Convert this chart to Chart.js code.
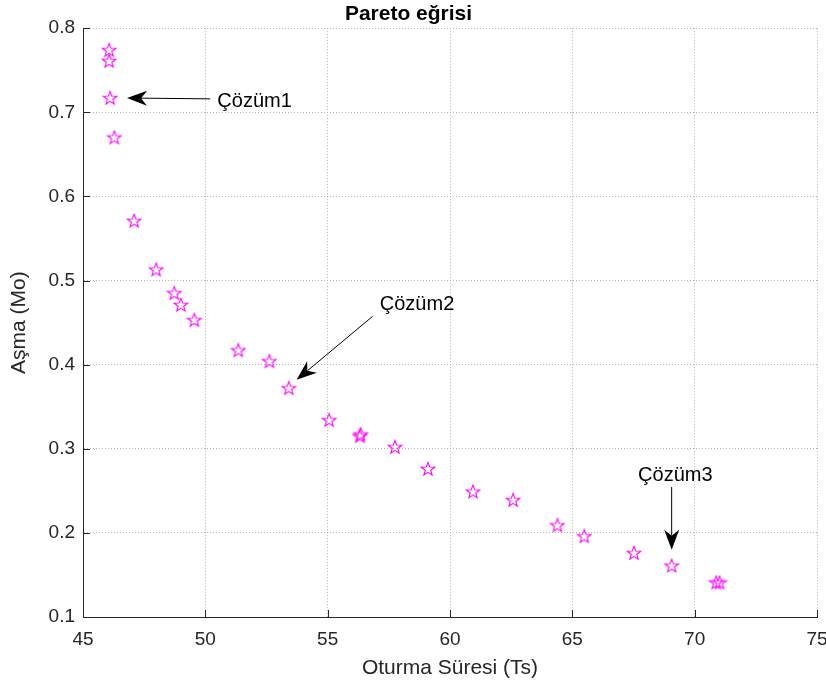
<!DOCTYPE html>
<html>
<head>
<meta charset="utf-8">
<script src="https://cdn.jsdelivr.net/npm/chart.js@4.4.1/dist/chart.umd.min.js"></script>
<style>
  body { margin: 0; background: #fff; }
  canvas { display: block; }
</style>
</head>
<body>
<canvas id="chart" width="826" height="686"></canvas>
<script>
// Pareto noktalari (Oturma Suresi, Asma)
const sureVals = [46.07, 46.07, 46.11, 46.28, 47.09, 47.99, 48.73, 49.00, 49.55, 51.35, 52.62, 53.41,
                  55.06, 56.31, 56.35, 57.75, 59.10, 60.94, 62.58, 64.39, 65.49, 67.52, 69.06, 70.88, 71.02];
const asmaVals = [0.774, 0.761, 0.717, 0.670, 0.571, 0.513, 0.485, 0.471, 0.453, 0.417, 0.404, 0.372,
                  0.334, 0.315, 0.317, 0.302, 0.276, 0.249, 0.239, 0.209, 0.196, 0.176, 0.161, 0.141, 0.141];

const xTickVals = [45, 50, 55, 60, 65, 70, 75];
const yTickVals = [0.1, 0.2, 0.3, 0.4, 0.5, 0.6, 0.7, 0.8];

// oklar ve yazilar
const annLabels = ['Çözüm1', 'Çözüm2', 'Çözüm3'];
const annTailX = [50.20, 56.84, 69.06];
const annTailY = [0.716, 0.4575, 0.2546];
const annHeadX = [46.80, 53.73, 69.06];
const annHeadY = [0.717, 0.382, 0.180];
const annTextX = [50.49, 57.13, 69.21];
const annTextY = [0.713, 0.472, 0.2685];
const annAlign = ['left', 'left', 'center'];

const FONT = '"Liberation Sans", Arial, Helvetica, sans-serif';

// beş köşeli yıldız marker
function makeStar() {
  const c = document.createElement('canvas');
  c.width = 16; c.height = 16;
  const g = c.getContext('2d');
  g.strokeStyle = '#ff00ff';
  g.lineWidth = 1.1;
  g.beginPath();
  for (let i = 0; i < 10; i++) {
    const r = i % 2 === 0 ? 7 : 2.9;
    const a = -Math.PI / 2 + i * Math.PI / 5;
    const px = 8 + r * Math.cos(a), py = 8.4 + r * Math.sin(a);
    if (i === 0) g.moveTo(px, py); else g.lineTo(px, py);
  }
  g.closePath();
  g.stroke();
  return c;
}

function drawArrow(ctx, x0, y0, x1, y1) {
  const ang = Math.atan2(y1 - y0, x1 - x0);
  const ux = Math.cos(ang), uy = Math.sin(ang);
  const L = 20, W = 7.5, N = 6;
  const bx = x1 - ux * L, by = y1 - uy * L;
  const nx = x1 - ux * (L - N), ny = y1 - uy * (L - N);
  ctx.beginPath();
  ctx.moveTo(x0, y0);
  ctx.lineTo(nx, ny);
  ctx.stroke();
  ctx.beginPath();
  ctx.moveTo(x1, y1);
  ctx.lineTo(bx - uy * W, by + ux * W);
  ctx.lineTo(nx, ny);
  ctx.lineTo(bx + uy * W, by - ux * W);
  ctx.closePath();
  ctx.fill();
}

const extras = {
  id: 'extras',
  afterDatasetsDraw(chart) {
    const { ctx, chartArea: a } = chart;
    const x = chart.scales.x, y = chart.scales.y;
    ctx.save();
    // içe dönük tick çizgileri
    ctx.strokeStyle = '#262626';
    ctx.lineWidth = 1;
    ctx.beginPath();
    xTickVals.forEach(v => {
      const px = Math.round(x.getPixelForValue(v)) + 0.5;
      ctx.moveTo(px, a.bottom);
      ctx.lineTo(px, a.bottom - 7);
    });
    yTickVals.forEach(v => {
      const py = Math.round(y.getPixelForValue(v)) + 0.5;
      ctx.moveTo(a.left, py);
      ctx.lineTo(a.left + 7, py);
    });
    ctx.stroke();

    // annotation
    ctx.strokeStyle = '#000';
    ctx.fillStyle = '#000';
    ctx.lineWidth = 1;
    annLabels.forEach((t, i) => {
      drawArrow(ctx,
        x.getPixelForValue(annTailX[i]), y.getPixelForValue(annTailY[i]),
        x.getPixelForValue(annHeadX[i]), y.getPixelForValue(annHeadY[i]));
      ctx.font = '20px ' + FONT;
      ctx.textAlign = annAlign[i];
      ctx.textBaseline = 'middle';
      ctx.fillText(t, x.getPixelForValue(annTextX[i]), y.getPixelForValue(annTextY[i]));
    });
    ctx.restore();
  }
};

const whiteBg = {
  id: 'whiteBg',
  beforeDraw(chart) {
    const ctx = chart.ctx;
    ctx.save();
    ctx.fillStyle = '#fff';
    ctx.fillRect(0, 0, chart.width, chart.height);
    ctx.restore();
  }
};

const points = sureVals.map((v, i) => ({ x: v, y: asmaVals[i] }));

new Chart(document.getElementById('chart').getContext('2d'), {
  type: 'scatter',
  data: {
    datasets: [{
      data: points,
      pointStyle: makeStar(),
      pointRadius: 8,
      showLine: false
    }]
  },
  options: {
    responsive: false,
    animation: false,
    layout: { padding: { left: 0, right: 9, top: 0, bottom: 0 } },
    scales: {
      x: {
        type: 'linear',
        min: 45,
        max: 75,
        afterBuildTicks: s => { s.ticks = xTickVals.map(v => ({ value: v })); },
        afterFit: s => { s.height = 69; s.paddingLeft = 0; s.paddingRight = 0; },
        ticks: {
          font: { family: FONT, size: 19 },
          color: '#262626',
          padding: 11,
          maxRotation: 0,
          callback: v => String(v)
        },
        grid: { color: '#b4b4b4', lineWidth: 1, drawTicks: false },
        border: { display: true, color: '#262626', width: 1, dash: [1, 2] },
        title: {
          display: true,
          text: 'Oturma Süresi (Ts)',
          font: { family: FONT, size: 21 },
          color: '#262626',
          padding: { top: 0, bottom: 5 }
        }
      },
      y: {
        type: 'linear',
        min: 0.1,
        max: 0.8,
        afterBuildTicks: s => { s.ticks = yTickVals.map(v => ({ value: v })); },
        afterFit: s => { s.width = 83; s.paddingTop = 0; s.paddingBottom = 0; },
        ticks: {
          font: { family: FONT, size: 19 },
          color: '#262626',
          padding: 8,
          callback: v => v.toFixed(1)
        },
        grid: { color: '#b4b4b4', lineWidth: 1, drawTicks: false },
        border: { display: true, color: '#262626', width: 1, dash: [1, 2] },
        title: {
          display: true,
          text: 'Aşma (Mo)',
          font: { family: FONT, size: 21 },
          color: '#262626',
          padding: { top: 7, bottom: 0 }
        }
      }
    },
    plugins: {
      title: {
        display: true,
        text: 'Pareto eğrisi',
        font: { family: FONT, size: 21, weight: 'bold' },
        color: '#000',
        padding: { top: 2, bottom: 1 }
      },
      legend: { display: false },
      tooltip: { enabled: false }
    }
  },
  plugins: [whiteBg, extras]
});
</script>
</body>
</html>
